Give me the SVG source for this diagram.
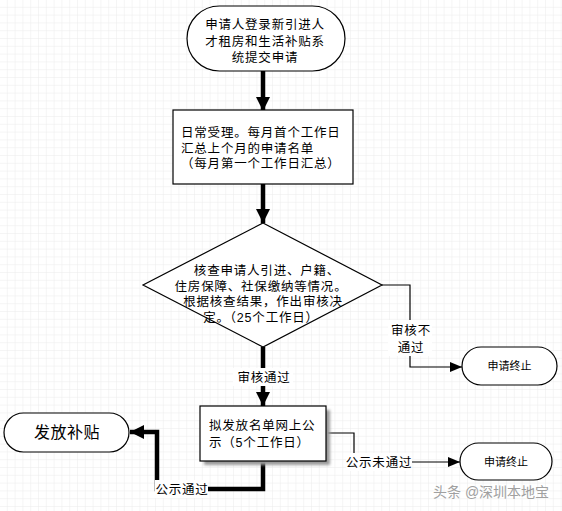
<svg xmlns="http://www.w3.org/2000/svg" width="562" height="511" viewBox="0 0 562 511">
<defs>
<pattern id="grid" width="7.8" height="7.8" patternUnits="userSpaceOnUse">
<path d="M7.8 0V7.8M0 7.8H7.8" fill="none" stroke="#ececec" stroke-width="1"/>
</pattern>
<marker id="big" markerWidth="14" markerHeight="14" refX="14" refY="7" orient="auto" markerUnits="userSpaceOnUse">
<path d="M0 0L14 7L0 14Z" fill="#000"/>
</marker>
<marker id="small" markerWidth="12" markerHeight="10" refX="12" refY="5" orient="auto" markerUnits="userSpaceOnUse">
<path d="M0 0L12 5L0 10Z" fill="#000"/>
</marker>
<filter id="sh" x="-10%" y="-10%" width="130%" height="140%">
<feGaussianBlur stdDeviation="1.5"/>
</filter>
</defs>
<style>
.shape{fill:#fff;stroke:#000;stroke-width:1.2}
.t{font-family:"Liberation Sans","Noto Sans CJK SC",sans-serif;font-size:12.5px;letter-spacing:0.8px;fill:#000}
.s{font-family:"Liberation Sans","Noto Sans CJK SC",sans-serif;font-size:11px;fill:#000}
.thick{fill:none;stroke:#000;stroke-width:4.5}
.thin{fill:none;stroke:#000;stroke-width:1.2}
.lbl{fill:#fff}
</style>
<rect width="562" height="511" fill="#fff"/>
<rect width="562" height="511" fill="url(#grid)"/>

<g id="connectors">
<path class="thick" d="M263 71V111" marker-end="url(#big)"/>
<path class="thick" d="M263 184V223" marker-end="url(#big)"/>
<path class="thick" d="M263 347V406" marker-end="url(#big)"/>
<path class="thin" d="M382 285H410V367H462" marker-end="url(#small)"/>
<path class="thick" d="M263 461V489H157V432H130" marker-end="url(#big)"/>
<path class="thin" d="M326 433H354V462H460" marker-end="url(#small)"/>
<rect class="lbl" x="233" y="368" width="60" height="18"/>
<text class="t" x="264" y="382" text-anchor="middle">审核通过</text>
<rect class="lbl" x="388" y="320" width="44" height="36"/>
<text class="t" x="411" y="335" text-anchor="middle"><tspan x="411">审核不</tspan><tspan x="411" dy="17">通过</tspan></text>
<rect class="lbl" x="155" y="480" width="53" height="18"/>
<text class="t" x="182" y="494" text-anchor="middle">公示通过</text>
<rect class="lbl" x="346" y="453" width="66" height="18"/>
<text class="t" x="379" y="467" text-anchor="middle">公示未通过</text>
</g>

<g id="start">
<rect class="shape" x="187" y="6" width="158" height="65" rx="32.5"/>
<text class="t" x="265" y="29" text-anchor="middle"><tspan x="265">申请人登录新引进人</tspan><tspan x="265" dy="16.5">才租房和生活补贴系</tspan><tspan x="265" dy="16.5">统提交申请</tspan></text>
</g>

<g id="accept">
<rect class="shape" x="173" y="110" width="180" height="74"/>
<text class="t" x="181" y="137"><tspan x="181">日常受理。每月首个工作日</tspan><tspan x="181" dy="15.5">汇总上个月的申请名单</tspan><tspan x="181" dy="15.5">（每月第一个工作日汇总）</tspan></text>
</g>

<g id="check">
<path class="shape" d="M263 223L382 285L263 347L143 285Z"/>
<text class="t" x="267" y="275" text-anchor="middle"><tspan x="267">核查申请人引进、户籍、</tspan><tspan x="261" dy="15.5">住房保障、社保缴纳等情况。</tspan><tspan x="263" dy="15.5">根据核查结果，作出审核决</tspan><tspan x="261" dy="16">定。（25个工作日）</tspan></text>
</g>

<g id="end1">
<rect class="shape" x="462" y="347" width="95" height="38" rx="19"/>
<text class="s" x="509.5" y="370" text-anchor="middle">申请终止</text>
</g>

<g id="publish">
<rect x="204" y="410" width="126" height="55" fill="#999" filter="url(#sh)"/>
<rect class="shape" x="200" y="406" width="126" height="55"/>
<text class="t" x="209" y="430"><tspan x="209">拟发放名单网上公</tspan><tspan x="209" dy="16.5">示（5个工作日）</tspan></text>
</g>

<g id="grant">
<rect class="shape" x="4" y="413" width="125" height="39" rx="19.5"/>
<text class="t" x="67" y="438" text-anchor="middle" style="font-size:16px;letter-spacing:0.5px">发放补贴</text>
</g>

<g id="end2">
<rect class="shape" x="460" y="443" width="92" height="37" rx="18.5"/>
<text class="s" x="506" y="466" text-anchor="middle">申请终止</text>
</g>

<text x="433" y="497" style="font-family:'Liberation Sans','Noto Sans CJK SC',sans-serif;font-size:14px;fill:#a0a0a0">头条 @深圳本地宝</text>
</svg>
